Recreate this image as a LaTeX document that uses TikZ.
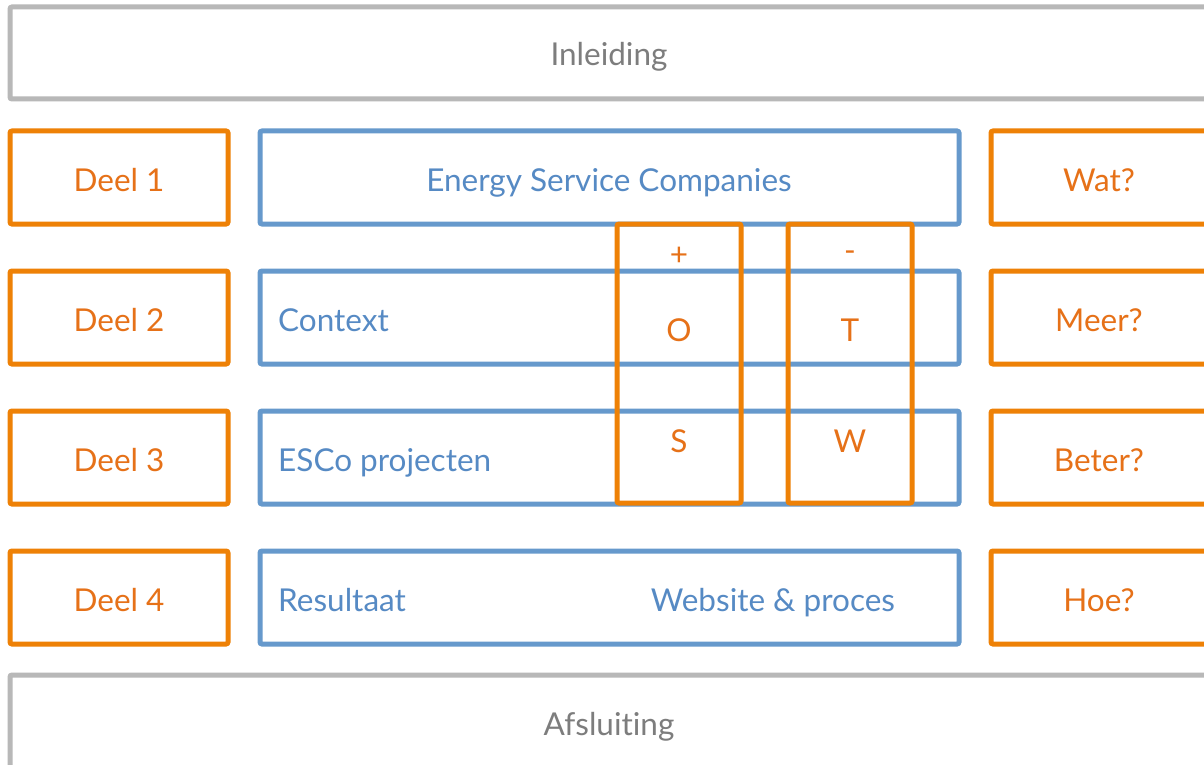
\documentclass[tikz,border=0pt]{standalone}
\usepackage{fontspec}
\setmainfont{Lato}[RawFeature=-liga]
\definecolor{edgeorange}{RGB}{238,129,6}
\definecolor{textorange}{RGB}{230,113,24}
\definecolor{edgeblue}{RGB}{102,153,204}
\definecolor{textblue}{RGB}{86,138,196}
\definecolor{edgegray}{RGB}{184,184,184}
\definecolor{textgray}{RGB}{125,125,125}
\tikzset{
  frame/.style={draw, line width=5pt, rounded corners=2pt, inner sep=0pt, outer sep=0pt},
  graybox/.style={frame, draw=edgegray},
  bluebox/.style={frame, draw=edgeblue},
  orangebox/.style={frame, draw=edgeorange},
  labeltext/.style={font=\fontsize{31.5}{34}\selectfont, inner sep=0pt, anchor=base},
  otext/.style={labeltext, text=textorange},
  btext/.style={labeltext, text=textblue},
  gtext/.style={labeltext, text=textgray},
}
\begin{document}
\begin{tikzpicture}[x=1pt, y=-1pt]
  \useasboundingbox (0,0) rectangle (1204,765);
  \clip (0,0) rectangle (1204,765);
  \fill[white] (0,0) rectangle (1204,765);

  % opening and closing bands
  \node[graybox, minimum width=1198pt, minimum height=92pt] (inleiding) at (609,53) {};
  \node[gtext] (inleidingtxt) at (609,66) {Inleiding};
  \node[graybox, minimum width=1198pt, minimum height=100pt] (afsluiting) at (609,725) {};
  \node[gtext] (afsluitingtxt) at (609,735) {Afsluiting};

  % the four parts: label, topic, question
  \foreach \k/\q [count=\i from 0] in {1/Wat?, 2/Meer?, 3/Beter?, 4/Hoe?} {
    \node[orangebox, minimum width=218pt, minimum height=93pt] (deel\k) at (119,177.5+140*\i) {};
    \node[otext] (deeltxt\k) at (119,191+140*\i) {Deel \k};
    \node[bluebox, minimum width=699pt, minimum height=93pt] (topic\k) at (609.5,177.5+140*\i) {};
    \node[orangebox, minimum width=216pt, minimum height=93pt] (vraag\k) at (1099,177.5+140*\i) {};
    \node[otext] (vraagtxt\k) at (1099,191+140*\i) {\q};
  }

  \node[btext] (esc) at (609,191) {Energy Service Companies};
  \node[btext, anchor=base west] (context) at (278,331) {Context};
  \node[btext, anchor=base west] (projecten) at (278,471) {ESCo projecten};
  \node[btext, anchor=base west] (resultaat) at (278,611) {Resultaat};
  \node[btext] (website) at (773,611) {Website \& proces};

  % SWOT columns over the topic boxes
  \node[orangebox, minimum width=124pt, minimum height=279pt] (plus) at (679,363.5) {};
  \node[orangebox, minimum width=124pt, minimum height=279pt] (min) at (850,363.5) {};
  \node[otext, anchor=center] (plustxt) at (679,256) {+};
  \node[otext, anchor=center] (mintxt) at (850,256) {-};
  \node[otext] (o) at (679,341) {O};
  \node[otext] (t) at (850,341) {T};
  \node[otext] (s) at (679,452) {S};
  \node[otext] (w) at (850,452) {W};
\end{tikzpicture}
\end{document}
